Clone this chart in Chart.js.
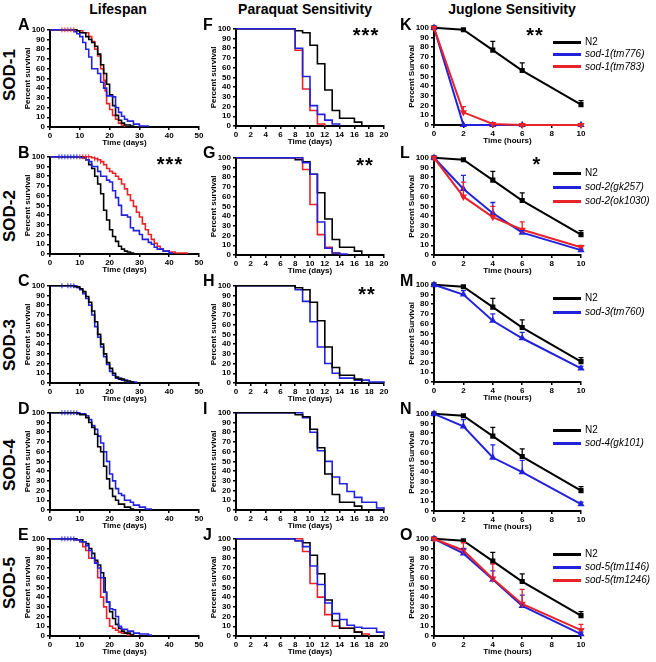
<!DOCTYPE html>
<html>
<head>
<meta charset="utf-8">
<script src="https://cdn.jsdelivr.net/npm/chart.js@4.4.0/dist/chart.umd.min.js"></script>
<style>
  body { margin: 0; width: 656px; height: 662px; position: relative; overflow: hidden; background: #fff;
         font-family: "Liberation Sans", Arial, sans-serif; }
  canvas { position: absolute; }
  .txt { position: absolute; white-space: nowrap; color: #000; line-height: 1; }
  .swatch { position: absolute; height: 3px; }
</style>
</head>
<body>
<script>
// ---------- Lifespan (days, % survival) ----------
const lifeA_N2 = [[0,100],[9,99],[10,97],[12,93],[13,90],[14,87],[15,83],[16,75],[17,64],[18,55],[19,44],[20,33],[21,22],[22,12],[23,7],[24,4],[25,2],[27,1],[28,0]];
const lifeA_tm776 = [[0,100],[8,98],[9,96],[10,93],[11,87],[12,80],[13,72],[14,60],[16,55],[17,46],[18,40],[19,32],[21,31],[22,20],[23,15],[24,11],[25,8],[26,6],[28,3],[30,1],[33,0]];
const lifeA_tm783 = [[0,100],[9,99],[11,97],[13,93],[14,88],[15,80],[16,73],[17,60],[18,48],[18.5,37],[19,24],[20,18],[21,12],[22,8],[23,4],[24,2],[25,0]];

const lifeB_N2 = [[0,100],[11,99],[12,97],[13,92],[14,88],[15,80],[16,72],[17,62],[18,45],[19,35],[20,25],[21,18],[22,13],[23,8],[24,5],[25,3],[26,2],[27,1],[28,0]];
const lifeB_gk257 = [[0,100],[10,99],[12,97],[13,95],[14,90],[16,85],[17,80],[19,76],[20,74],[21,65],[22,58],[23,50],[24,40],[26,38],[27,27],[28,24],[30,20],[31,15],[33,12],[34,10],[35,7],[36,5],[38,3],[40,1],[41,0]];
const lifeB_ok1030 = [[0,100],[14,99],[15,98],[16,97],[17,95],[18,92],[19,88],[20,85],[21,83],[22,80],[23,77],[24,72],[25,67],[26,61],[27,55],[28,49],[29,43],[30,38],[31,31],[32,25],[33,20],[34,15],[35,11],[36,8],[37,5],[38,3],[40,2],[42,1],[46,0]];

const lifeC_N2 = [[0,100],[8,99],[10,97],[11,94],[12,89],[13,83],[14,74],[15,63],[16,50],[17,40],[18,30],[19,21],[20,15],[21,10],[22,6],[23,4],[25,2],[27,1],[28,0]];
const lifeC_tm760 = [[0,100],[9,98],[10,96],[11,92],[12,87],[13,80],[14,70],[15,58],[16,47],[17,37],[18,27],[19,19],[20,12],[21,8],[22,5],[24,3],[26,1],[29,0]];

const lifeD_N2 = [[0,100],[9,99],[10,98],[12,95],[13,90],[14,85],[15,78],[16,65],[17,60],[18,45],[19,32],[20,22],[21,14],[22,10],[23,6],[25,3],[27,1],[28,0]];
const lifeD_gk101 = [[0,100],[10,99],[12,97],[13,93],[14,87],[15,83],[16,76],[17,69],[18,60],[19,50],[20,37],[21,30],[22,22],[23,17],[24,15],[25,10],[27,8],[28,5],[30,3],[32,1],[34,0]];

const lifeE_N2 = [[0,100],[9,99],[11,97],[12,95],[13,90],[14,85],[15,78],[16,73],[17,65],[18,60],[18.5,45],[19,35],[20,25],[21,18],[22,12],[23,8],[24,5],[25,3],[27,1],[28,0]];
const lifeE_tm1146 = [[0,100],[8,99],[10,97],[12,93],[13,88],[14,80],[15,75],[16,70],[17,60],[18,45],[19,35],[20,28],[21,27],[22,20],[23,10],[24,7],[26,5],[28,3],[30,2],[33,1],[34,0]];
const lifeE_tm1246 = [[0,100],[8,99],[10,97],[11,92],[12,88],[13,80],[15,76],[16,60],[17,40],[18,30],[19,18],[20,10],[21,8],[22,6],[23,4],[24,3],[26,1],[28,0]];

// censored animals (tick marks)
const censorA = [[4,100],[5,100],[6,100],[7,100],[8,100]];
const censorB_blue = [[3,100],[4,100],[5,100],[6,100],[7,100],[8,100],[9,100]];
const censorB_red = [[10,100],[11,100],[12,100],[13,100],[15,98],[16,97],[17,95]];
const censorC = [[4,100],[6,100],[7,100],[8,100]];
const censorD = [[4,100],[5,100],[6,100],[7,100],[8,100],[9,100]];
const censorE = [[4,100],[5,100],[6,100],[7,100],[8,100]];

// ---------- Paraquat (days, % survival) ----------
const pqN2 = [[0,100],[8,98],[9,96],[10,83],[11,64],[12,37],[13,16],[14,8],[16,4],[17,0]];
const pqF_tm776 = [[0,100],[8,80],[9,51],[10,21],[11,12],[12,6],[13,2],[14,0]];
const pqF_tm783 = [[0,100],[8,78],[9,38],[10,16],[11,2],[12,0]];
const pqG_gk257 = [[0,100],[9,95],[10,83],[11,34],[12,7],[13,2],[14,1],[15,0]];
const pqG_ok1030 = [[0,100],[9,88],[10,52],[11,21],[12,8],[13,2],[14,0]];
const pqH_tm760 = [[0,100],[8,96],[9,84],[10,63],[11,37],[12,20],[13,10],[14,5],[16,3],[18,1],[20,0]];
const pqI_gk101 = [[0,100],[9,95],[10,80],[11,61],[12,50],[13,34],[14,27],[15,19],[16,13],[17,8],[19,2],[20,0]];
const pqJ_tm1146 = [[0,100],[8,98],[9,92],[10,72],[11,53],[12,34],[13,23],[14,17],[15,11],[16,9],[17,8],[19,4],[20,0]];
const pqJ_tm1246 = [[0,100],[9,87],[10,54],[11,40],[12,22],[13,10],[14,8],[16,4],[17,2],[18,0]];

// ---------- Juglone (hours, % survival, upper error) ----------
const hours = [0, 2, 4, 6, 10];
const jugN2 = [100, 98, 77, 56, 21];
const jugN2Err = [0, 1, 9, 8, 4];
const jug_tm776 = [100, 0, 0, 0, 0];
const jug_tm776Err = [0, 0, 0, 0, 0];
const jug_tm783 = [100, 13, 1, 0, 0];
const jug_tm783Err = [0, 6, 1, 0, 0];
const jug_gk257 = [100, 68, 43, 23, 5];
const jug_gk257Err = [0, 14, 11, 2, 1];
const jug_ok1030 = [100, 60, 39, 26, 8];
const jug_ok1030Err = [0, 15, 11, 8, 2];
const jug_tm760 = [100, 90, 63, 45, 14];
const jug_tm760Err = [0, 4, 7, 6, 2];
const jug_gk101 = [100, 87, 55, 40, 7];
const jug_gk101Err = [0, 7, 13, 12, 2];
const jug_tm1146 = [100, 85, 58, 31, 2];
const jug_tm1146Err = [0, 5, 9, 11, 2];
const jug_tm1246 = [100, 88, 59, 33, 6];
const jug_tm1246Err = [0, 8, 15, 15, 6];

const BLACK = "#000000";
const BLUE = "#2222dd";
const RED = "#e8232a";
const FONT = "'Liberation Sans', Arial, sans-serif";

// fixed axis box sizes so every plot area lands where it should
const YW = 27, XH = 21, PT = 6, PR = 9, PH = 98;

function toXY(pairs) {
  return pairs.map((p) => ({ x: p[0], y: p[1] }));
}

function axes(xMax, xStep, xTitle, yTitle) {
  const f = { family: FONT, size: 8, weight: "bold" };
  const grid = { display: true, drawOnChartArea: false, drawTicks: true, tickLength: 3, color: BLACK, lineWidth: 1.5 };
  const border = { display: true, color: BLACK, width: 2 };
  return {
    x: {
      type: "linear", min: 0, max: xMax, grid: grid, border: border,
      afterFit: (s) => { s.height = XH; },
      ticks: { stepSize: xStep, font: f, color: BLACK, padding: 1, maxRotation: 0, autoSkip: false },
      title: { display: true, text: xTitle, font: f, color: BLACK, padding: 0 },
    },
    y: {
      min: 0, max: 100, grid: grid, border: border,
      afterFit: (s) => { s.width = YW; },
      ticks: { stepSize: 10, font: f, color: BLACK, padding: 2, autoSkip: false },
      title: { display: true, text: yTitle, font: f, color: BLACK, padding: 0 },
    },
  };
}

// upper error bars for the juglone panels
const errorBars = {
  id: "errorBars",
  afterDatasetsDraw(chart) {
    const ctx = chart.ctx;
    const x = chart.scales.x, y = chart.scales.y;
    chart.data.datasets.forEach((ds) => {
      if (!ds.errUp) return;
      ctx.save();
      ctx.strokeStyle = ds.borderColor;
      ctx.lineWidth = 1.3;
      ds.data.forEach((pt, j) => {
        const e = ds.errUp[j];
        if (!e) return;
        const px = x.getPixelForValue(pt.x);
        const y0 = y.getPixelForValue(pt.y);
        const y1 = y.getPixelForValue(pt.y + e);
        ctx.beginPath();
        ctx.moveTo(px, y0); ctx.lineTo(px, y1);
        ctx.moveTo(px - 2.5, y1); ctx.lineTo(px + 2.5, y1);
        ctx.stroke();
      });
      ctx.restore();
    });
  },
};

function makeCanvas(p) {
  const c = document.createElement("canvas");
  const w = YW + p.w + PR, h = PT + PH + XH;
  c.width = w; c.height = h;
  c.style.width = w + "px"; c.style.height = h + "px";
  c.style.left = (p.x - YW) + "px";
  c.style.top = (p.y - PT) + "px";
  document.body.appendChild(c);
  return c.getContext("2d");
}

function baseOptions(scales) {
  return {
    responsive: false,
    animation: false,
    events: [],
    layout: { padding: { left: 0, top: PT, right: PR, bottom: 0 } },
    plugins: { legend: { display: false }, tooltip: { enabled: false } },
    scales: scales,
  };
}

// Kaplan-Meier style panels: survival holds until the next death time, then drops
function kmChart(p, curves, censors, xMax, xStep) {
  const datasets = [];
  curves.forEach((c, i) => {
    datasets.push({
      data: toXY(c[0]), borderColor: c[1], borderWidth: 1.6, stepped: "before",
      pointRadius: 0, fill: false, clip: false, order: c[2] || i,
    });
  });
  (censors || []).forEach((c) => {
    datasets.push({
      data: toXY(c[0]), showLine: false, borderColor: c[1], pointStyle: "line",
      rotation: 90, pointRadius: 2.5, pointBorderWidth: 1, clip: false, order: 0,
    });
  });
  new Chart(makeCanvas(p), {
    type: "line",
    data: { datasets: datasets },
    options: baseOptions(axes(xMax, xStep, "Time (days)", "Percent survival")),
  });
}

function jugChart(p, series) {
  const styles = [
    { pointStyle: "rect", rotation: 0 },
    { pointStyle: "triangle", rotation: 0 },
    { pointStyle: "triangle", rotation: 180 },
  ];
  const datasets = series.map((s, i) => ({
    data: hours.map((h, j) => ({ x: h, y: s[0][j] })),
    errUp: s[1],
    borderColor: s[2], backgroundColor: s[2], borderWidth: 2,
    pointStyle: styles[i].pointStyle, rotation: styles[i].rotation,
    pointRadius: 2.2, tension: 0, fill: false, clip: false, order: series.length - i,
  }));
  new Chart(makeCanvas(p), {
    type: "line",
    data: { datasets: datasets },
    options: baseOptions(axes(10, 2, "Time (hours)", "Percent Survival")),
    plugins: [errorBars],
  });
}

function addText(text, x, y, css, anchor) {
  const d = document.createElement("div");
  d.className = "txt";
  d.textContent = text;
  d.style.left = x + "px";
  d.style.top = y + "px";
  d.style.transform = anchor || "translate(-50%,-50%)";
  Object.assign(d.style, css || {});
  document.body.appendChild(d);
}

function legend(items, x, y, step) {
  items.forEach((it, i) => {
    const s = document.createElement("div");
    s.className = "swatch";
    s.style.left = x + "px";
    s.style.top = (y + i * step - 1.5) + "px";
    s.style.width = "28px";
    s.style.background = it[1];
    document.body.appendChild(s);
    addText(it[0], x + 32, y + i * step, { fontSize: "10px", fontStyle: it[2] ? "italic" : "normal" }, "translate(0,-50%)");
  });
}

document.addEventListener("DOMContentLoaded", function () {
  const colX = [50, 236, 434];
  const colW = [149, 148, 147];
  const rowY = [[29, 28, 27], [156, 157, 157], [285, 285, 284], [412, 412, 413], [538, 538, 538]];
  const geo = (r, c) => ({ x: colX[c], y: rowY[r][c], w: colW[c] });

  // Lifespan column
  kmChart(geo(0, 0), [[lifeA_N2, BLACK, 2], [lifeA_tm776, BLUE, 1], [lifeA_tm783, RED, 0]], [[censorA, RED]], 50, 10);
  kmChart(geo(1, 0), [[lifeB_N2, BLACK, 2], [lifeB_gk257, BLUE, 1], [lifeB_ok1030, RED, 0]], [[censorB_blue, BLUE], [censorB_red, RED]], 50, 10);
  kmChart(geo(2, 0), [[lifeC_N2, BLACK, 1], [lifeC_tm760, BLUE, 0]], [[censorC, BLUE]], 50, 10);
  kmChart(geo(3, 0), [[lifeD_N2, BLACK, 1], [lifeD_gk101, BLUE, 0]], [[censorD, BLUE]], 50, 10);
  kmChart(geo(4, 0), [[lifeE_N2, BLACK, 2], [lifeE_tm1146, BLUE, 1], [lifeE_tm1246, RED, 0]], [[censorE, BLUE]], 50, 10);

  // Paraquat column
  kmChart(geo(0, 1), [[pqN2, BLACK, 2], [pqF_tm776, BLUE, 1], [pqF_tm783, RED, 0]], [], 20, 2);
  kmChart(geo(1, 1), [[pqN2, BLACK, 2], [pqG_gk257, BLUE, 1], [pqG_ok1030, RED, 0]], [], 20, 2);
  kmChart(geo(2, 1), [[pqN2, BLACK, 1], [pqH_tm760, BLUE, 0]], [], 20, 2);
  kmChart(geo(3, 1), [[pqN2, BLACK, 1], [pqI_gk101, BLUE, 0]], [], 20, 2);
  kmChart(geo(4, 1), [[pqN2, BLACK, 2], [pqJ_tm1146, BLUE, 1], [pqJ_tm1246, RED, 0]], [], 20, 2);

  // Juglone column
  jugChart(geo(0, 2), [[jugN2, jugN2Err, BLACK], [jug_tm776, jug_tm776Err, BLUE], [jug_tm783, jug_tm783Err, RED]]);
  jugChart(geo(1, 2), [[jugN2, jugN2Err, BLACK], [jug_gk257, jug_gk257Err, BLUE], [jug_ok1030, jug_ok1030Err, RED]]);
  jugChart(geo(2, 2), [[jugN2, jugN2Err, BLACK], [jug_tm760, jug_tm760Err, BLUE]]);
  jugChart(geo(3, 2), [[jugN2, jugN2Err, BLACK], [jug_gk101, jug_gk101Err, BLUE]]);
  jugChart(geo(4, 2), [[jugN2, jugN2Err, BLACK], [jug_tm1146, jug_tm1146Err, BLUE], [jug_tm1246, jug_tm1246Err, RED]]);

  // legends
  legend([["N2", BLACK], ["sod-1(tm776)", BLUE, 1], ["sod-1(tm783)", RED, 1]], 553, 42, 12.4);
  legend([["N2", BLACK], ["sod-2(gk257)", BLUE, 1], ["sod-2(ok1030)", RED, 1]], 553, 173, 14);
  legend([["N2", BLACK], ["sod-3(tm760)", BLUE, 1]], 553, 298, 14);
  legend([["N2", BLACK], ["sod-4(gk101)", BLUE, 1]], 553, 430, 13);
  legend([["N2", BLACK], ["sod-5(tm1146)", BLUE, 1], ["sod-5(tm1246)", RED, 1]], 553, 554, 13);

  // column headers
  const head = { fontSize: "14px", fontWeight: "bold" };
  addText("Lifespan", 118, 9, head);
  addText("Paraquat Sensitivity", 305, 9, head);
  addText("Juglone Sensitivity", 512, 9, head);

  // row labels
  const rowLab = { fontSize: "17px", fontWeight: "bold" };
  const rot = "translate(-50%,-50%) rotate(-90deg)";
  [["SOD-1", 75], ["SOD-2", 216], ["SOD-3", 345], ["SOD-4", 465], ["SOD-5", 583]].forEach((r) => {
    addText(r[0], 9, r[1], rowLab, rot);
  });

  // panel letters
  const letterCss = { fontSize: "16px", fontWeight: "bold" };
  const letterY = [25, 153, 281, 409, 535];
  ["ABCDE", "FGHIJ", "KLMNO"].forEach((col, c) => {
    const lx = [18, 203, 400][c];
    col.split("").forEach((ch, r) => addText(ch, lx, letterY[r], letterCss, "translate(0,-50%)"));
  });

  // significance stars
  const star = { fontSize: "20px", fontWeight: "bold", letterSpacing: "1px" };
  addText("***", 170, 164, star);
  addText("***", 366, 35, star);
  addText("**", 365, 165, star);
  addText("**", 367, 294, star);
  addText("**", 535, 35, star);
  addText("*", 537, 164, star);
});
</script>
</body>
</html>
